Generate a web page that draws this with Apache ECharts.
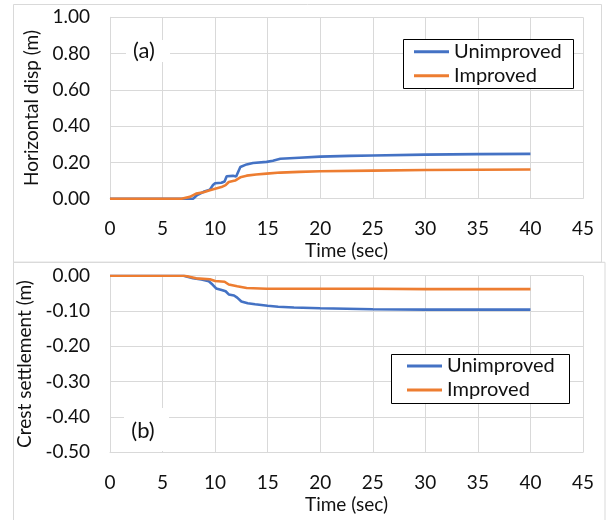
<!DOCTYPE html>
<html>
<head>
<meta charset="utf-8">
<script src="https://cdn.jsdelivr.net/npm/echarts@6/dist/echarts.min.js"></script>
<style>
html,body{margin:0;padding:0;background:#fff;}
#c{width:606px;height:520px;}
</style>
</head>
<body>
<div id="c"></div>
<script>
// ---- Data ----
var seriesNames = ['Unimproved', 'Improved'];
var xTicks = [0, 5, 10, 15, 20, 25, 30, 35, 40, 45];

// (a) Horizontal displacement (m)
var tA_unimp = [0, 7.9, 8.3, 8.9, 9.5, 9.8, 10.0, 10.6, 10.9, 11.1, 11.7, 12.0, 12.4, 13.0, 13.6, 14.9, 15.5, 16.2, 18.0, 20.0, 22.8, 25, 30, 35, 40];
var vA_unimp = [0, 0, 0.02, 0.038, 0.05, 0.075, 0.085, 0.088, 0.095, 0.124, 0.126, 0.122, 0.175, 0.189, 0.197, 0.203, 0.209, 0.22, 0.226, 0.232, 0.236, 0.238, 0.243, 0.246, 0.247];
var tA_imp = [0, 6.8, 7.6, 8.2, 8.9, 9.5, 10.0, 10.6, 11.0, 11.3, 11.9, 12.4, 13.0, 13.9, 14.9, 16.2, 18.0, 20.0, 25, 30, 35, 40];
var vA_imp = [0, 0, 0.01, 0.028, 0.036, 0.046, 0.055, 0.064, 0.075, 0.092, 0.1, 0.118, 0.127, 0.133, 0.138, 0.144, 0.148, 0.151, 0.155, 0.158, 0.16, 0.161];

// (b) Crest settlement (m)
var tB_unimp = [0, 7.0, 7.9, 8.7, 9.4, 9.75, 10.1, 10.7, 11.0, 11.3, 11.8, 12.1, 12.5, 13.1, 13.8, 15, 16, 17.5, 20, 25, 30, 40];
var vB_unimp = [0, 0, -0.007, -0.011, -0.016, -0.025, -0.036, -0.041, -0.044, -0.053, -0.056, -0.062, -0.073, -0.078, -0.081, -0.085, -0.088, -0.09, -0.092, -0.095, -0.096, -0.096];
var tB_imp = [0, 7.1, 8.2, 9.5, 10.0, 10.9, 11.3, 12.1, 13.0, 14.9, 20, 25, 30, 40];
var vB_imp = [0, 0, -0.0075, -0.01, -0.015, -0.017, -0.025, -0.03, -0.035, -0.037, -0.037, -0.037, -0.038, -0.038];

function pairs(t, v) { return t.map(function (x, i) { return [x, v[i]]; }); }

var FONT = 'Lato';
var TXT = '#111';
var GRID = '#d9d9d9';
var BLUE = '#4472C4', ORANGE = '#ED7D31';
var FS = 19;

function xAxis(idx) {
  return {
    gridIndex: idx, type: 'value', min: 0, max: 45, interval: 5,
    name: 'Time (sec)', nameLocation: 'middle', nameGap: 43,
    nameTextStyle: { fontFamily: FONT, fontSize: FS, color: TXT },
    axisLine: { show: true, onZero: false, lineStyle: { color: GRID, width: 1 } },
    axisTick: { show: false },
    axisLabel: { fontFamily: FONT, fontSize: FS, color: TXT, margin: 21 },
    splitLine: { show: true, lineStyle: { color: GRID, width: 1 } }
  };
}
function yAxis(idx, min, max, interval, name) {
  return {
    gridIndex: idx, type: 'value', min: min, max: max, interval: interval,
    name: name, nameLocation: 'middle', nameGap: 69, nameRotate: 90,
    nameTextStyle: { fontFamily: FONT, fontSize: 19, color: TXT },
    axisLine: { show: true, lineStyle: { color: GRID, width: 1 } },
    axisTick: { show: false },
    axisLabel: { fontFamily: FONT, fontSize: FS, color: TXT, margin: 20,
      formatter: function (v) { return v.toFixed(2); } },
    splitLine: { show: true, lineStyle: { color: GRID, width: 1 } }
  };
}
function lineSeries(name, xi, data, color) {
  return {
    name: name, type: 'line', xAxisIndex: xi, yAxisIndex: xi,
    data: data, showSymbol: false, symbol: 'none', smooth: false,
    lineStyle: { color: color, width: 2.6 }, itemStyle: { color: color },
    animation: false
  };
}
function legend(left, top) {
  return {
    orient: 'vertical', left: left, top: top, padding: 0, itemGap: 4, z: 80,
    itemWidth: 35, itemHeight: 3, icon: 'rect',
    textStyle: { fontFamily: FONT, fontSize: 20, color: TXT, lineHeight: 20 },
    data: seriesNames, selectedMode: false
  };
}

var chart = echarts.init(document.getElementById('c'), null, { renderer: 'canvas' });
chart.setOption({
  animation: false,
  backgroundColor: '#fff',
  grid: [
    { left: 110, right: 23, top: 17.3, height: 181.4 },
    { left: 110, right: 23, top: 275.7, height: 176.6 }
  ],
  xAxis: [xAxis(0), xAxis(1)],
  yAxis: [
    yAxis(0, 0, 1, 0.2, 'Horizontal disp (m)'),
    yAxis(1, -0.5, 0, 0.1, 'Crest settlement (m)')
  ],
  legend: [legend(414, 41.7), legend(407, 356)],
  series: [
    lineSeries(seriesNames[0], 0, pairs(tA_unimp, vA_unimp), BLUE),
    lineSeries(seriesNames[1], 0, pairs(tA_imp, vA_imp), ORANGE),
    lineSeries(seriesNames[0] + ' ', 1, pairs(tB_unimp, vB_unimp), BLUE),
    lineSeries(seriesNames[1] + ' ', 1, pairs(tB_imp, vB_imp), ORANGE)
  ],
  graphic: [
    { type: 'rect', z: -10, shape: { x: 13.5, y: 4.5, width: 588, height: 257.8 }, style: { fill: 'none', stroke: GRID, lineWidth: 1 } },
    { type: 'rect', z: -10, shape: { x: 13.5, y: 262.3, width: 591.5, height: 270 }, style: { fill: 'none', stroke: GRID, lineWidth: 1 } },
    { type: 'rect', z: 50, shape: { x: 403.5, y: 39.5, width: 170, height: 49 }, style: { fill: '#fff', stroke: '#000', lineWidth: 1 } },
    { type: 'rect', z: 50, shape: { x: 391.5, y: 354.5, width: 178, height: 49 }, style: { fill: '#fff', stroke: '#000', lineWidth: 1 } },
    { type: 'rect', z: 50, shape: { x: 126, y: 40, width: 44, height: 22 }, style: { fill: '#fff' } },
    { type: 'text', z: 51, x: 144, y: 51, style: { text: '(a)', fontFamily: FONT, fontSize: 22, fill: TXT, align: 'center', verticalAlign: 'middle' } },
    { type: 'rect', z: 50, shape: { x: 124, y: 408, width: 45, height: 43 }, style: { fill: '#fff' } },
    { type: 'text', z: 51, x: 143, y: 431, style: { text: '(b)', fontFamily: FONT, fontSize: 22, fill: TXT, align: 'center', verticalAlign: 'middle' } }
  ]
});
</script>
</body>
</html>
